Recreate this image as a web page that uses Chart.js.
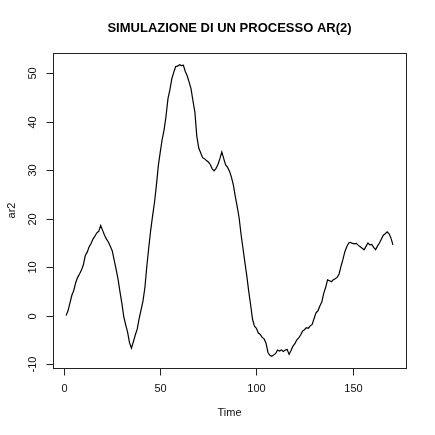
<!DOCTYPE html>
<html>
<head>
<meta charset="utf-8">
<script src="https://cdn.jsdelivr.net/npm/chart.js@4.4.1/dist/chart.umd.min.js"></script>
<style>
  html, body { margin: 0; padding: 0; background: #fff; }
  canvas { display: block; }
</style>
</head>
<body>
<canvas id="ar2Chart" width="435" height="435"></canvas>
<script>
// simulated AR(2) series (time 1..171)
const ar2 = [
  0.0, 1.0, 2.6, 4.2, 5.2, 6.8, 7.9, 8.6, 9.4, 10.5,
  12.4, 13.1, 14.2, 14.9, 15.8, 16.4, 17.1, 17.4, 18.6, 17.6,
  16.6, 15.8, 15.2, 14.3, 13.4, 11.5, 9.6, 7.6, 5.0, 2.6,
  -0.2, -1.9, -3.4, -5.6, -6.7, -5.4, -4.0, -2.8, -0.6, 1.2,
  3.0, 5.8, 10.2, 14.0, 17.6, 20.6, 23.4, 27.0, 31.0, 33.8,
  36.4, 38.4, 41.2, 44.8, 46.6, 48.9, 50.2, 51.4, 51.5, 51.8,
  51.6, 51.7, 50.4, 49.5, 48.2, 46.8, 44.3, 42.0, 37.0, 34.6,
  33.6, 32.6, 32.4, 32.0, 31.7, 31.2, 30.3, 29.9, 30.4, 31.2,
  32.4, 33.8, 32.4, 31.1, 30.6, 29.8, 28.6, 27.0, 24.6, 22.5,
  20.2, 16.8, 13.9, 11.0, 8.2, 5.0, 2.2, -0.8, -2.2, -2.6,
  -3.6, -3.9, -4.5, -4.8, -5.7, -7.6, -8.2, -8.4, -8.1, -7.8,
  -7.1, -7.3, -7.1, -7.4, -7.1, -7.0, -8.0, -7.2, -6.3, -5.8,
  -5.0, -4.6, -4.0, -3.2, -2.9, -2.5, -2.6, -2.1, -1.8, -0.6,
  0.6, 1.0, 2.0, 2.8, 4.6, 5.8, 7.4, 7.2, 7.0, 7.4,
  7.6, 7.9, 8.6, 10.2, 11.6, 13.2, 14.2, 15.0, 15.1, 14.9,
  14.8, 14.9, 14.5, 14.2, 13.9, 13.6, 14.3, 15.0, 14.6, 14.7,
  14.1, 13.6, 14.4, 15.0, 15.8, 16.6, 16.9, 17.3, 16.9, 16.0, 14.6
];
const xTicks = [0, 50, 100, 150];
const yTicks = [-10, 0, 10, 20, 30, 40, 50];
const titleText = 'SIMULAZIONE DI UN PROCESSO AR(2)';
const xLabel = 'Time';
const yLabel = 'ar2';

const points = ar2.map((v, i) => ({ x: i + 1, y: v }));

// R style: range extended by 4% on each side
function extend(lo, hi) {
  const d = (hi - lo) * 0.04;
  return [lo - d, hi + d];
}
const [xMin, xMax] = extend(1, ar2.length);
const [yMin, yMax] = extend(Math.min(...ar2), Math.max(...ar2));

const FONT = '"Liberation Sans", Arial, sans-serif';

// draws the box, ticks and labels the way base R does
const rAxes = {
  id: 'rAxes',
  afterDraw(chart) {
    const { ctx, chartArea: a, scales } = chart;
    const sx = scales.x, sy = scales.y;
    const tick = 7;
    ctx.save();
    ctx.strokeStyle = '#222';
    ctx.lineWidth = 1;
    ctx.strokeRect(Math.round(a.left) + 0.5, Math.round(a.top) + 0.5,
      Math.round(a.right - a.left), Math.round(a.bottom - a.top));

    ctx.fillStyle = '#111';
    ctx.font = '11px ' + FONT;
    ctx.textAlign = 'center';
    ctx.textBaseline = 'middle';
    const bottom = Math.round(a.bottom) + 0.5;
    xTicks.forEach(t => {
      const px = Math.round(sx.getPixelForValue(t)) + 0.5;
      ctx.beginPath();
      ctx.moveTo(px, bottom);
      ctx.lineTo(px, bottom + tick);
      ctx.stroke();
      ctx.fillText(String(t), px, 389);
    });
    const left = Math.round(a.left) + 0.5;
    yTicks.forEach(t => {
      const py = Math.round(sy.getPixelForValue(t)) + 0.5;
      ctx.beginPath();
      ctx.moveTo(left, py);
      ctx.lineTo(left - tick, py);
      ctx.stroke();
      ctx.save();
      ctx.translate(33, py);
      ctx.rotate(-Math.PI / 2);
      ctx.fillText(String(t), 0, 0);
      ctx.restore();
    });

    const cx = (a.left + a.right) / 2;
    const cy = (a.top + a.bottom) / 2;
    ctx.fillText(xLabel, cx, 413);
    ctx.save();
    ctx.translate(12, cy);
    ctx.rotate(-Math.PI / 2);
    ctx.fillText(yLabel, 0, 0);
    ctx.restore();

    ctx.fillStyle = '#000';
    ctx.font = 'bold 13px ' + FONT;
    ctx.fillText(titleText, cx, 28);
    ctx.restore();
  }
};

const ctx = document.getElementById('ar2Chart').getContext('2d');
new Chart(ctx, {
  type: 'line',
  data: {
    datasets: [{
      label: yLabel,
      data: points,
      borderColor: '#000',
      borderWidth: 1.2,
      pointRadius: 0,
      tension: 0,
      fill: false
    }]
  },
  options: {
    responsive: false,
    animation: false,
    layout: { padding: { left: 53, top: 53, right: 29, bottom: 67 } },
    plugins: { legend: { display: false }, tooltip: { enabled: false } },
    scales: {
      x: { type: 'linear', min: xMin, max: xMax, display: false },
      y: { type: 'linear', min: yMin, max: yMax, display: false }
    }
  },
  plugins: [rAxes]
});
</script>
</body>
</html>
